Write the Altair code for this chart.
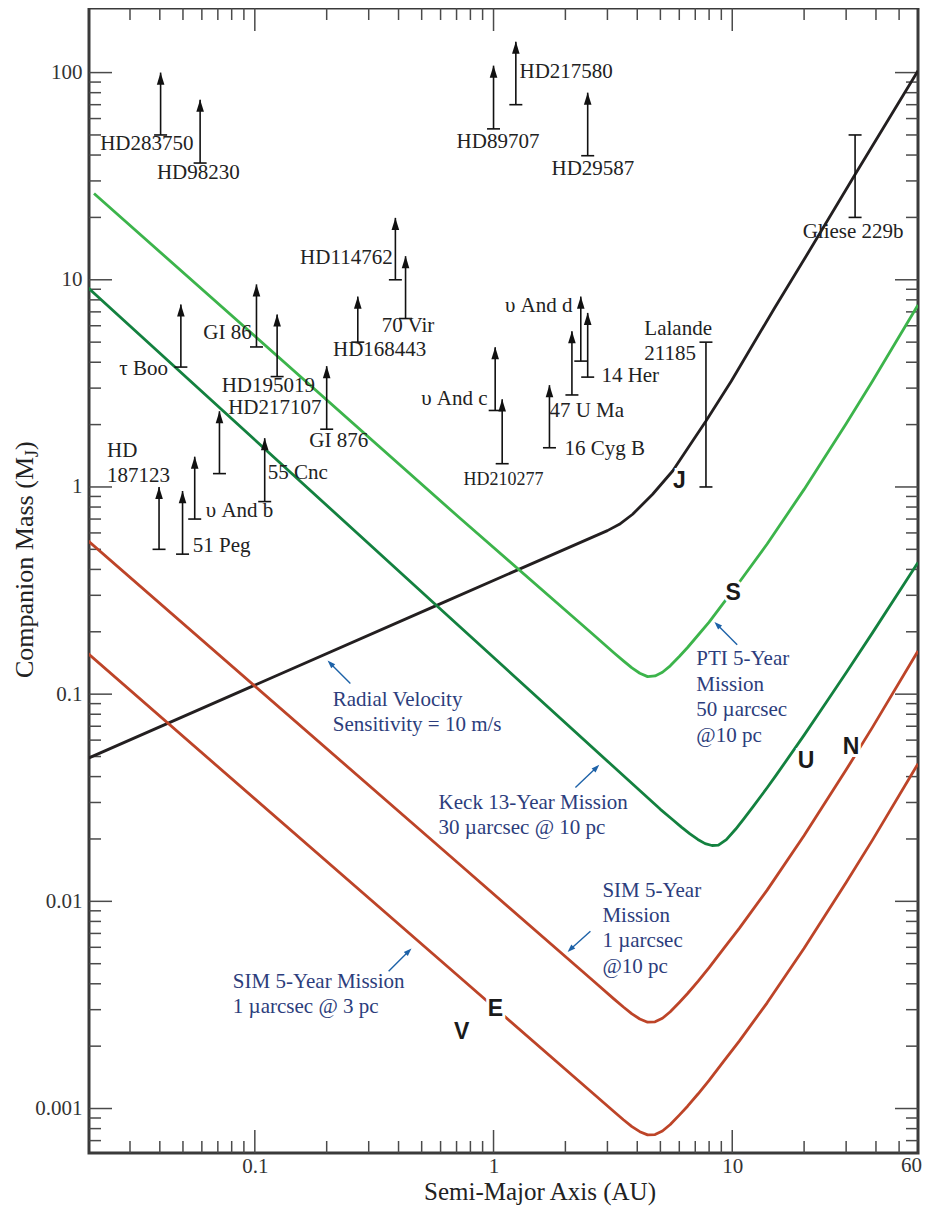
import altair as alt
import pandas as pd

# ---------------- detection-limit curves (a in AU, mass in Jupiter masses) ----------------
rv_a = [0.02, 0.594, 3.0, 3.367, 3.826, 4.639, 5.627, 6.823, 7.762, 9.9, 15, 21.6, 32.7, 60]
rv_m = [0.049, 0.272, 0.6155, 0.6606, 0.7384, 0.922, 1.194, 1.666, 2.08, 3.24, 7.27, 14.5, 32.2, 102]

pti_a = [0.0212, 0.72, 2.6, 3.2, 3.5, 3.8, 4.1, 4.42, 4.75, 5.1, 5.5, 6.0, 6.5, 7.2, 8.0, 9.2,
         10.7, 14, 20, 30, 38.6, 60]
pti_m = [26.1, 0.71, 0.195, 0.158, 0.1447, 0.1338, 0.1262, 0.1215, 0.1225, 0.1275, 0.137,
         0.152, 0.168, 0.193, 0.2225, 0.276, 0.3467, 0.5306, 0.9734, 2.019, 3.227, 7.56]

keck_a = [0.02, 0.594, 3.06, 5.0, 5.6, 6.125, 6.65, 7.175, 7.7, 8.225, 8.75, 9.45, 10.325,
          11.2, 12.25, 14.0, 15.2, 20, 24.7, 30, 38.6, 60]
keck_m = [9.15, 0.26, 0.0465, 0.0278, 0.0249, 0.02282, 0.02115, 0.01989, 0.01899, 0.0186,
          0.01868, 0.01986, 0.02227, 0.02509, 0.02871, 0.03533, 0.0403, 0.0634, 0.0908,
          0.1268, 0.197, 0.432]

sim10_a = [0.02, 0.72, 2.6, 3.2, 3.5, 3.8, 4.1, 4.42, 4.75, 5.1, 5.5, 6.0, 6.5, 7.2, 8.0, 9.2,
           10.7, 14, 20, 30, 38.6, 60]
sim10_m = [0.55, 0.0151, 0.00416, 0.003375, 0.00309, 0.002864, 0.002705, 0.00261, 0.00262,
           0.002727, 0.00293, 0.00325, 0.00359, 0.004123, 0.004789, 0.005906, 0.007406,
           0.01133, 0.02079, 0.04313, 0.06893, 0.1615]

sim3_a = [0.02, 0.72, 2.6, 3.2, 3.5, 3.8, 4.1, 4.42, 4.75, 5.1, 5.5, 6.0, 6.5, 7.2, 8.0, 9.2,
          10.7, 14, 20, 30, 38.6, 60]
sim3_m = [0.157, 0.00431, 0.001189, 0.000964, 0.000883, 0.000818, 0.000773, 0.000746, 0.000749,
          0.000779, 0.000837, 0.000929, 0.001026, 0.001178, 0.001368, 0.001687, 0.002116,
          0.003238, 0.00594, 0.01232, 0.01969, 0.04614]

curve_names = ["rv", "pti", "keck", "sim10", "sim3"]
curve_colors = ["#231f20", "#3cb44b", "#13813f", "#bd4428", "#bd4428"]

# ---------------- known companions: lower limits (arrows) ----------------
arrow_names = ["HD283750", "HD98230", "tau Boo", "GI 86", "HD195019", "HD114762", "70 Vir",
               "HD168443", "HD217107", "GI 876", "HD187123", "51 Peg", "ups And b", "55 Cnc",
               "HD89707", "HD217580", "HD29587", "ups And d", "14 Her", "47 U Ma",
               "ups And c", "HD210277", "16 Cyg B"]
arrow_a = [0.0403, 0.059, 0.049, 0.1016, 0.124, 0.388, 0.428,
           0.27, 0.0711, 0.2, 0.0397, 0.0498, 0.056, 0.11,
           1.0, 1.24, 2.48, 2.32, 2.48, 2.13,
           1.016, 1.087, 1.715]
arrow_lo = [50, 36.6, 3.79, 4.74, 3.41, 10.0, 6.5,
            5.0, 1.16, 1.9, 0.5, 0.474, 0.70, 0.85,
            53.5, 70, 39.7, 4.05, 3.39, 2.78,
            2.34, 1.295, 1.546]
arrow_hi = [100, 74, 7.6, 9.5, 6.8, 19.9, 13,
            8.3, 2.32, 3.83, 1.0, 0.956, 1.4, 1.72,
            108, 141, 80, 8.3, 6.92, 5.65,
            4.73, 2.65, 3.10]

# ---------------- known companions: mass ranges (error bars) ----------------
bar_names = ["Lalande 21185", "Gliese 229b"]
bar_a = [7.76, 32.7]
bar_lo = [1.0, 20]
bar_hi = [5.0, 50]

# ---------------- object labels ----------------
label_text = ["HD283750", "HD98230", "τ Boo", "GI 86", "HD195019", "HD217107", "GI 876",
              "HD", "187123", "51 Peg", "υ And b", "55 Cnc", "HD114762", "70 Vir",
              "HD168443", "HD89707", "HD217580", "HD29587", "Gliese 229b", "υ And d",
              "14 Her", "47 U Ma", "16 Cyg B", "HD210277", "υ And c", "Lalande", "21185"]
label_a = [0.0353, 0.0580, 0.0433, 0.0971, 0.1139, 0.1213, 0.2246,
           0.02403, 0.02403, 0.0550, 0.0623, 0.1133, 0.3779, 0.3400,
           0.3334, 1.044, 1.285, 2.608, 32.08, 2.141,
           2.830, 1.715, 1.982, 1.101, 0.9438, 4.283, 4.283]
label_m = [45.0, 32.6, 3.70, 5.52, 3.07, 2.40, 1.666,
           1.491, 1.130, 0.5196, 0.766, 1.168, 12.70, 5.97,
           4.573, 46.0, 101.1, 34.1, 16.94, 7.45,
           3.427, 2.324, 1.524, 1.081, 2.656, 5.774, 4.375]
label_align = ["center", "center", "right", "right", "center", "center", "center",
               "left", "left", "left", "left", "left", "right", "left",
               "center", "center", "left", "center", "center", "right",
               "left", "left", "left", "center", "right", "left", "left"]
label_size = [21, 21, 21, 21, 21, 21, 21,
              21, 21, 21, 21, 21, 21, 21,
              21, 21, 21, 21, 21, 21,
              21, 21, 21, 18, 21, 21, 21]

# ---------------- blue annotations ----------------
ann_text = ["Radial Velocity", "Sensitivity = 10 m/s",
            "PTI 5-Year", "Mission", "50 µarcsec", "@10 pc",
            "Keck 13-Year Mission", "30 µarcsec @ 10 pc",
            "SIM 5-Year", "Mission", "1 µarcsec", "@10 pc",
            "SIM 5-Year Mission", "1 µarcsec @ 3 pc"]
ann_a = [0.2120, 0.2120, 7.07, 7.07, 7.07, 7.07, 0.5886, 0.5886,
         2.858, 2.858, 2.858, 2.858, 0.0809, 0.0809]
ann_m = [0.09408, 0.07129, 0.1483, 0.1111, 0.0842, 0.0631, 0.02968, 0.02248,
         0.01117, 0.008468, 0.006417, 0.004807, 0.004071, 0.003084]

ptr_tail_a = [0.2513, 10.49, 2.203, 2.546, 0.3636]
ptr_tail_m = [0.1127, 0.1732, 0.03543, 0.007168, 0.004599]
ptr_head_a = [0.2073, 8.655, 2.698, 2.100, 0.441]
ptr_head_m = [0.1407, 0.2163, 0.04422, 0.005871, 0.005741]
ptr_angle = [315, 315, 45, 225, 45]

# ---------------- planet letters ----------------
planet_text = ["J", "S", "U", "N", "V", "E"]
planet_a = [6.0, 10.1, 20.4, 31.47, 0.7347, 1.0195]
planet_m = [1.069, 0.3084, 0.04779, 0.05585, 0.002336, 0.003016]

# ---------------- axis ticks ----------------
x_major = [0.1, 1, 10]
x_minor = [0.03, 0.04, 0.05, 0.06, 0.07, 0.08, 0.09,
           0.2, 0.3, 0.4, 0.5, 0.6, 0.7, 0.8, 0.9,
           2, 3, 4, 5, 6, 7, 8, 9, 20, 30, 40, 50]
x_labels = [0.1, 1, 10]
x_edge_label = ["60"]
y_major = [0.001, 0.01, 0.1, 1, 10, 100]
y_minor = [0.0007, 0.0008, 0.0009,
           0.002, 0.003, 0.004, 0.005, 0.006, 0.007, 0.008, 0.009,
           0.02, 0.03, 0.04, 0.05, 0.06, 0.07, 0.08, 0.09,
           0.2, 0.3, 0.4, 0.5, 0.6, 0.7, 0.8, 0.9,
           2, 3, 4, 5, 6, 7, 8, 9,
           20, 30, 40, 50, 60, 70, 80, 90]

# =====================================================================
W, H = 829, 1145
SERIF = "Liberation Serif"
SANS = "Liberation Sans"
LABEL_PAD = 2

XS = alt.Scale(type="log", domain=[0.0202, 60], nice=False)
YS = alt.Scale(type="log", domain=[0.00061, 205], nice=False)
XA = alt.Axis(values=x_labels, format="~g", ticks=False, domain=False, grid=False, title=None,
              labelFont=SERIF, labelFontSize=21, labelColor="#333333", labelPadding=LABEL_PAD,
              labelFlush=False, labelOverlap=False)
YA = alt.Axis(values=y_major, format="~g", ticks=False, domain=False, grid=False, title=None,
              labelFont=SERIF, labelFontSize=21, labelColor="#333333", labelPadding=7,
              labelOverlap=False)


def X(f):
    return alt.X(f, type="quantitative", scale=XS, axis=XA)


def Y(f):
    return alt.Y(f, type="quantitative", scale=YS, axis=YA)


rows = []
for name, aa, mm in [("rv", rv_a, rv_m), ("pti", pti_a, pti_m), ("keck", keck_a, keck_m),
                     ("sim10", sim10_a, sim10_m), ("sim3", sim3_a, sim3_m)]:
    for a, m in zip(aa, mm):
        rows.append({"curve": name, "a": a, "m": m})
curves = pd.DataFrame(rows)

arrows = pd.DataFrame({"name": arrow_names, "a": arrow_a, "lo": arrow_lo, "hi": arrow_hi})
bars = pd.DataFrame({"name": bar_names, "a": bar_a, "lo": bar_lo, "hi": bar_hi})
labels = pd.DataFrame({"text": label_text, "a": label_a, "m": label_m,
                       "align": label_align, "fs": label_size})
anns = pd.DataFrame({"text": ann_text, "a": ann_a, "m": ann_m})
ptrs = pd.DataFrame({"a": ptr_tail_a, "m": ptr_tail_m, "a2": ptr_head_a,
                     "m2": ptr_head_m, "ang": ptr_angle})
planets = pd.DataFrame({"text": planet_text, "a": planet_a, "m": planet_m})

TICK_C = "#4a4a4a"
layers = []

# ticks (inward, on all four sides)
xmaj = pd.DataFrame({"v": x_major})
xmin = pd.DataFrame({"v": x_minor})
ymaj = pd.DataFrame({"v": y_major})
ymin = pd.DataFrame({"v": y_minor})
for df, ln in [(xmaj, 23), (xmin, 12)]:
    layers.append(alt.Chart(df).mark_rule(color=TICK_C, strokeWidth=1.5).encode(
        x=X("v"), y=alt.value(H), y2=alt.value(H - ln)))
    layers.append(alt.Chart(df).mark_rule(color=TICK_C, strokeWidth=1.5).encode(
        x=X("v"), y=alt.value(0), y2=alt.value(ln)))
for df, ln in [(ymaj, 23), (ymin, 12)]:
    layers.append(alt.Chart(df).mark_rule(color=TICK_C, strokeWidth=1.5).encode(
        y=Y("v"), x=alt.value(0), x2=alt.value(ln)))
    layers.append(alt.Chart(df).mark_rule(color=TICK_C, strokeWidth=1.5).encode(
        y=Y("v"), x=alt.value(W), x2=alt.value(W - ln)))

# curves
layers.append(alt.Chart(curves).mark_line(strokeWidth=2.8, clip=True, strokeJoin="round").encode(
    x=X("a"), y=Y("m"),
    color=alt.Color("curve:N", scale=alt.Scale(domain=curve_names, range=curve_colors), legend=None),
    detail="curve:N"))

# arrows for lower mass limits
ARROW_HEAD = "M0,-1L0.62,1L-0.62,1Z"
layers.append(alt.Chart(arrows).mark_rule(color="#111111", strokeWidth=1.6).encode(
    x=X("a"), y=Y("lo"), y2="hi"))
layers.append(alt.Chart(arrows).mark_point(shape=ARROW_HEAD, size=150, filled=True, opacity=1,
                                           color="#111111", strokeWidth=0, yOffset=6).encode(
    x=X("a"), y=Y("hi")))
layers.append(alt.Chart(arrows).mark_tick(orient="horizontal", size=13, thickness=1.6,
                                          color="#111111", opacity=1).encode(x=X("a"), y=Y("lo")))
# error bars
layers.append(alt.Chart(bars).mark_rule(color="#111111", strokeWidth=1.6).encode(
    x=X("a"), y=Y("lo"), y2="hi"))
for f in ["lo", "hi"]:
    layers.append(alt.Chart(bars).mark_tick(orient="horizontal", size=13, thickness=1.6,
                                            color="#111111", opacity=1).encode(x=X("a"), y=Y(f)))

# object labels
for al in ["left", "center", "right"]:
    layers.append(alt.Chart(labels).transform_filter(alt.datum.align == al).mark_text(
        align=al, baseline="middle", font=SERIF, color="#222222").encode(
        x=X("a"), y=Y("m"), text="text:N", size=alt.Size("fs:Q", scale=None)))

# blue annotations
layers.append(alt.Chart(anns).mark_text(align="left", baseline="middle", font=SERIF, fontSize=21,
                                        color="#2c3d7c").encode(x=X("a"), y=Y("m"), text="text:N"))
layers.append(alt.Chart(ptrs).mark_rule(color="#1d62a8", strokeWidth=1.4).encode(
    x=X("a"), y=Y("m"), x2="a2", y2="m2"))
layers.append(alt.Chart(ptrs).mark_point(shape="M0,-1L0.7,1L-0.7,1Z", size=64, filled=True,
                                         opacity=1, color="#1d62a8", strokeWidth=0).encode(
    x=X("a2"), y=Y("m2"), angle=alt.Angle("ang:Q", scale=None)))

# planet letters with white halo
layers.append(alt.Chart(planets).mark_text(align="center", baseline="middle", font=SANS, fontSize=23,
                                           fontWeight="bold", color="white", stroke="white",
                                           strokeWidth=6).encode(x=X("a"), y=Y("m"), text="text:N"))
layers.append(alt.Chart(planets).mark_text(align="center", baseline="middle", font=SANS, fontSize=23,
                                           fontWeight="bold", color="#1a1a1a").encode(
    x=X("a"), y=Y("m"), text="text:N"))

# right-edge x label (kept inside the page)
el = pd.DataFrame({"t": x_edge_label})
layers.append(alt.Chart(el).mark_text(align="right", baseline="top", font=SERIF, fontSize=21,
                                      color="#333333").encode(
    x=alt.value(833), y=alt.value(H + LABEL_PAD), text="t:N"))

# axis titles
xt = pd.DataFrame({"t": ["Semi-Major Axis (AU)"]})
layers.append(alt.Chart(xt).mark_text(align="center", baseline="alphabetic", font=SERIF, fontSize=25,
                                      color="#222222").encode(
    x=alt.value(451), y=alt.value(1192), text="t:N"))
yt1 = pd.DataFrame({"t": ["Companion Mass (M"]})
yt2 = pd.DataFrame({"t": ["J"]})
yt3 = pd.DataFrame({"t": [")"]})
layers.append(alt.Chart(yt1).mark_text(align="right", baseline="alphabetic", angle=270, font=SERIF,
                                       fontSize=26, color="#222222").encode(
    x=alt.value(-56), y=alt.value(449), text="t:N"))
layers.append(alt.Chart(yt2).mark_text(align="left", baseline="alphabetic", angle=270, font=SERIF,
                                       fontSize=18, color="#222222").encode(
    x=alt.value(-51), y=alt.value(449), text="t:N"))
layers.append(alt.Chart(yt3).mark_text(align="left", baseline="alphabetic", angle=270, font=SERIF,
                                       fontSize=26, color="#222222").encode(
    x=alt.value(-56), y=alt.value(442), text="t:N"))

chart = alt.layer(*layers).properties(
    width=W, height=H,
    autosize=alt.AutoSizeParams(type="none"),
    padding={"left": 81, "top": 0, "right": 4, "bottom": 53},
).configure_view(stroke="#3a3a3a", strokeWidth=3)

chart.save("out.html", embed_options={"renderer": "svg", "actions": False})
